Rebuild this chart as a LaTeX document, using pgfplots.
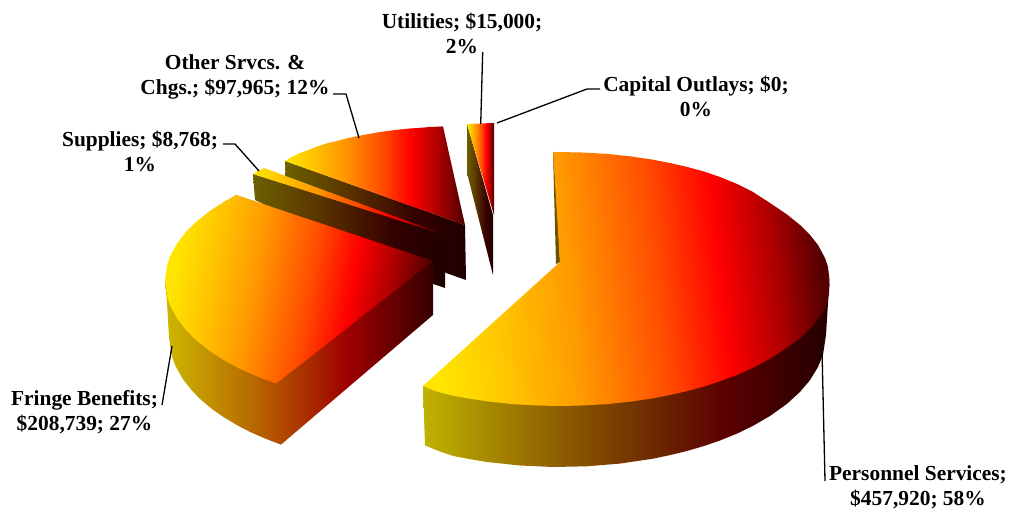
\documentclass[border=0pt]{standalone}
\usepackage{fontspec}
\setmainfont{Liberation Serif}
\usepackage{pgfplots}
\pgfplotsset{compat=1.18}
\pgfdeclarehorizontalshading{topg}{100bp}{
 rgb(0bp)=(1,.9,0); rgb(25bp)=(1,.9,0); rgb(33bp)=(1,.76,0); rgb(41bp)=(1,.6,0); rgb(52bp)=(1,.3,0); rgb(60bp)=(1,0,0); rgb(67bp)=(.7,0,0); rgb(75bp)=(.3,0,0); rgb(100bp)=(.3,0,0)}
\pgfdeclarehorizontalshading{topp}{100bp}{
 rgb(0bp)=(1,.9,0); rgb(25bp)=(1,.9,0); rgb(33bp)=(1,.78,0); rgb(43bp)=(1,.6,0); rgb(54bp)=(1,.3,0); rgb(62bp)=(1,0,0); rgb(69bp)=(.68,0,0); rgb(75bp)=(.33,0,0); rgb(100bp)=(.33,0,0)}
\pgfdeclarehorizontalshading{wallA}{100bp}{
 rgb(0bp)=(.8,.72,0); rgb(25bp)=(.8,.72,0); rgb(41bp)=(.72,.42,0); rgb(47bp)=(.69,.28,0); rgb(59bp)=(.62,0,0); rgb(67bp)=(.42,0,0); rgb(75bp)=(.2,0,0); rgb(100bp)=(.2,0,0)}
\pgfdeclarehorizontalshading{wallB}{100bp}{
 rgb(0bp)=(.75,.7,0); rgb(25bp)=(.75,.7,0); rgb(42bp)=(.55,.36,0); rgb(54bp)=(.42,.15,0); rgb(62bp)=(.36,0,0); rgb(75bp)=(.14,0,0); rgb(100bp)=(.14,0,0)}
\pgfdeclarehorizontalshading{wallC}{100bp}{
 rgb(0bp)=(.42,.38,0); rgb(25bp)=(.42,.38,0); rgb(41bp)=(.36,.22,0); rgb(55bp)=(.26,.06,0); rgb(62bp)=(.2,0,0); rgb(75bp)=(.12,0,0); rgb(100bp)=(.12,0,0)}
\definecolor{sliver}{rgb}{.42,.33,0}
\begin{document}
\begin{tikzpicture}
\begin{axis}[
 at={(0,0)}, anchor=south west,
 scale only axis, width=1011pt, height=510pt,
 xmin=0, xmax=1011, ymin=0, ymax=510, y dir=reverse,
 hide axis, clip=false,
 every axis plot/.append style={no markers, line join=round}]
\path (rel axis cs:0,0) rectangle (rel axis cs:1,1);
% Utilities
\addplot[shade, draw=none, shading=wallC] coordinates {(467,124)(493,215)(493,275)(467,173)(467,124)};
\addplot[shade, draw=none, shading=topg] coordinates {(467,124)(480,123.5)(494,123)(494,215)(467,124)};
% Other Srvcs
\addplot[shade, draw=none, shading=wallC] coordinates {(285,161)(465,225)(466,280)(446,273)(286,182)(285,161)};
\addplot[shade, draw=none, shading=topg] coordinates {(285,161)(290,158)(300,153)(310,149.5)(317,146.5)(327,143.3)(337,141)(347,138.3)(358,136)(369,134)(380,132)(390,130.7)(400,129.5)(410,128.5)(420,127.8)(430,127)(443,126.4)(465,225)(285,161)};
% Supplies
\addplot[shade, draw=none, shading=wallC] coordinates {(253,174)(445,234)(445,288)(433,284)(255,200)(253,174)};
\addplot[shade, draw=none, shading=topg] coordinates {(253,174)(264,168)(445,235)(253,174)};
% Fringe
\addplot[shade, draw=none, shading=wallA] coordinates {(165,281)(167,303)(169,337)(171,353)(175,365)(183,379.3)(192,390.6)(200,398.9)(212,409)(223,416.7)(237,425.2)(250,431.9)(265,438.5)(281,444.6)(433,315)(433,261)(236,195)(165,281)};
\addplot[shade, draw=none, shading=topg, shading angle=-10] coordinates {(236,195)(433,261)(276,383.6)(258,376.9)(240,368.9)(225,360.8)(210,351.2)(195,339.2)(185,329)(177,318.3)(170,305.4)(167,296.4)(165,281)(167,265.6)(170,256.6)(177,243.7)(185,233)(195,222.8)(210,210.8)(225,201.2)(236,195)};
% Personnel
\addplot[fill=sliver, draw=none] coordinates {(553,152)(554.5,152)(560,262)(556,264)(553,152)};
\addplot[shade, draw=none, shading=wallB] coordinates {(423,386)(425,445.5)(440,451.5)(453,455.9)(470,459.2)(487,462)(520,465.5)(553,467)(587,466.3)(620,463.6)(653,458.7)(670,455.1)(687,451)(704,446)(720,440.5)(737,433.6)(753,425.8)(770,416)(787,403.8)(800,391.9)(810,380.1)(818,367)(823,354.8)(826,335)(828,303)(829.5,283)(423,386)};
\addplot[shade, draw=none, shading=topp, shading angle=6] coordinates {(553,152)(580,152.4)(606,153.8)(630,156.3)(653,159.7)(670,163)(687,166.9)(704,171.5)(720,177)(737,184)(753,192)(770,203)(787,214.5)(800,225)(810,235)(818,245)(825,258)(828,267)(829.5,280)(829,293)(828,298)(825,309)(818,319)(810,329)(800,338)(787,347.7)(770,358.8)(753,367.8)(737,374.9)(720,381.2)(704,386.5)(687,391.1)(670,395)(653,398.3)(630,401.7)(606,404.2)(580,405.6)(560,406)(540,405.6)(514,404.2)(490,401.7)(467,398.3)(450,395)(435,391)(423,386)(560,262)(553,152)};
% Leader lines
\addplot[black, line width=1.3pt] coordinates {(482.7,52)(480.7,124)};
\addplot[black, line width=1.3pt] coordinates {(497,123)(587,89)(600,89)};
\addplot[black, line width=1.3pt] coordinates {(333,94)(346,94)(359,138)};
\addplot[black, line width=1.3pt] coordinates {(223,144)(235,144)(259,171)};
\addplot[black, line width=1.3pt] coordinates {(172,346)(162,405)};
\addplot[black, line width=1.3pt] coordinates {(822,350)(825,481)};
% Labels
\tikzset{lab/.style={align=center, inner sep=0pt, font=\fontsize{21.4}{25}\selectfont\bfseries}}
\node[lab] at (axis cs:462,33.5) {Utilities; \$15,000;\\2\%};
\node[lab] at (axis cs:696,96.5) {Capital Outlays; \$0;\\0\%};
\node[lab] at (axis cs:235,76.5) {Other Srvcs. \&\\Chgs.; \$97,965; 12\%};
\node[lab] at (axis cs:140,151.5) {Supplies; \$8,768;\\1\%};
\node[lab] at (axis cs:84.5,412.5) {Fringe Benefits;\\\$208,739; 27\%};
\node[lab] at (axis cs:918,487.5) {Personnel Services;\\\$457,920; 58\%};
\end{axis}
\end{tikzpicture}
\end{document}
